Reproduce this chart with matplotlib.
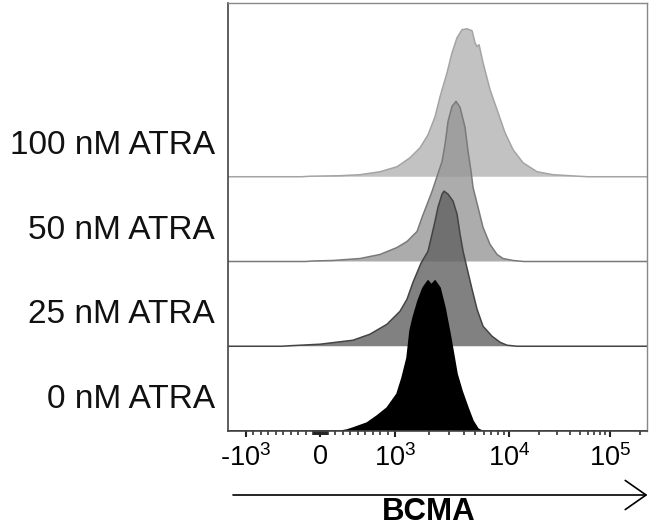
import numpy as np
import matplotlib
matplotlib.use("Agg")
import matplotlib.pyplot as plt
from matplotlib import transforms
from matplotlib.patches import FancyArrowPatch

plt.rcParams["font.family"] = ["Liberation Sans", "DejaVu Sans"]
plt.rcParams["mathtext.fontset"] = "custom"
plt.rcParams["mathtext.rm"] = "Liberation Sans"
plt.rcParams["mathtext.it"] = "Liberation Sans:italic"
plt.rcParams["mathtext.bf"] = "Liberation Sans:bold"

# ---- data: BCMA fluorescence histograms (height in % of lane, lane = 100) ----
labels = ["100 nM ATRA", "50 nM ATRA", "25 nM ATRA", "0 nM ATRA"]

bcma_100 = [-250, -141, 262, 530, 799, 1041, 1354, 1657, 1948, 2244, 2482, 2859,
            3162, 3499, 3870, 4281, 4737, 5032, 5240, 5457, 5914, 6813, 7848,
            9223, 10955, 13756, 18930, 27260, 40180, 60000]
count_100 = [0, 0.6, 1.2, 2.4, 5.9, 11.8, 22.4, 34.2, 49.6, 70.8, 94.4, 122.7,
             146.3, 164.0, 173.5, 174.6, 172.3, 158.1, 153.4, 155.8, 134.5, 102.7,
             79.1, 51.9, 31.9, 16.5, 5.9, 2.4, 1.2, 0]

bcma_50 = [-200, -101, 168, 530, 799, 1041, 1274, 1560, 1725, 1909, 2112, 2336,
           2585, 2746, 2917, 3162, 3429, 3717, 4112, 4369, 4642, 4833, 5348,
           5914, 6813, 7848, 8860, 10955, 14000]
count_50 = [0, 0.6, 1.2, 3.5, 8.3, 16.5, 23.6, 35.4, 52.0, 67.3, 82.7, 100.4,
            118.1, 138.2, 165.3, 183.0, 189.0, 181.9, 158.3, 129.9, 106.3, 87.4,
            63.8, 40.2, 20.1, 8.3, 3.5, 1.2, 0]

bcma_25 = [-520, -409, -7, 436, 664, 893, 1106, 1274, 1439, 1690, 1948, 2112,
           2244, 2384, 2585, 2691, 2917, 3228, 3499, 3717, 3950, 4240, 4737,
           5240, 5914, 7094, 8340, 9605, 12000]
count_25 = [0, 0.6, 2.4, 7.1, 14.2, 26.0, 41.3, 55.5, 75.6, 98.0, 112.2, 132.3,
            147.6, 164.2, 179.5, 183.0, 179.5, 171.2, 155.9, 132.3, 112.2, 94.5,
            67.3, 43.7, 23.6, 11.8, 4.7, 1.2, 0]

bcma_0 = [280, 356, 436, 624, 758, 893, 1041, 1152, 1274, 1354, 1439, 1591, 1761,
          1948, 2090, 2244, 2482, 2746, 3037, 3228, 3499, 3870, 4369, 4833, 5348,
          5800]
count_0 = [0, 1.2, 3.5, 9.4, 17.7, 27.2, 43.7, 62.6, 86.2, 118.1, 133.5, 153.5,
           168.9, 177.2, 172.4, 177.2, 168.9, 145.3, 114.6, 94.5, 67.3, 47.2, 27.2,
           11.8, 2.4, 0]

series_x = [bcma_100, bcma_50, bcma_25, bcma_0]
series_y = [count_100, count_50, count_25, count_0]
lane_offsets = [300, 200, 100, 0]

fill_colors = ["#c2c2c2", "#979797", "#626262", "#000000"]
fill_alphas = [1.0, 0.8, 0.8, 1.0]
edge_colors = ["#a4a4a4", "#7a7a7a", "#444444", "#000000"]

major_ticks = [-1000, 0, 1000, 10000, 100000]
major_labels = ["-$10^{3}$", "0", "$10^{3}$", "$10^{4}$", "$10^{5}$"]
XLIM = (-1770, 232000)
YLIM = (0, 505)

# ---- biexponential-style display scale (linear within +/-1000, log outside) ----
KNOT_T = np.array([-4.0, -1.0, 0.0, 1.0, 2.0, 3.0, 6.0])
KNOT_U = np.array([-298.0, -74.5, 0.0, 74.5, 188.5, 289.5, 592.5])


def _to_t(x):
    x = np.asarray(x, dtype=float)
    ax_ = np.maximum(np.abs(x), 1e-12)
    return np.where(ax_ <= 1000, x / 1000.0,
                    np.sign(x) * (1.0 + np.log10(ax_ / 1000.0)))


def forward(x):
    return np.interp(_to_t(x), KNOT_T, KNOT_U)


def inverse(u):
    t = np.interp(np.asarray(u, dtype=float), KNOT_U, KNOT_T)
    return np.where(np.abs(t) <= 1, 1000.0 * t,
                    np.sign(t) * 1000.0 * 10.0 ** (np.abs(t) - 1.0))


fig = plt.figure(figsize=(6.49, 5.28), dpi=100)
ax = fig.add_axes([227.5 / 649, 97 / 528, (647 - 227.5) / 649, (525 - 97) / 528])
ax.set_xscale("function", functions=(forward, inverse))
ax.set_xlim(*XLIM)
ax.set_ylim(*YLIM)

for xs, ys, off, fc, fa, ec in zip(series_x, series_y, lane_offsets,
                                   fill_colors, fill_alphas, edge_colors):
    xs = np.asarray(xs, dtype=float)
    ys = np.asarray(ys, dtype=float)
    ax.fill_between(xs, off, off + ys, facecolor=fc, alpha=fa, linewidth=0)
    xfull = np.concatenate([[XLIM[0]], xs, [XLIM[1]]])
    yfull = np.concatenate([[0.0], ys, [0.0]])
    ax.plot(xfull, off + yfull, color=ec, lw=1.1, solid_joinstyle="round")

# axis ticks
minor = ([s * v for v in range(10, 100, 10) for s in (-1, 1)]
         + [s * v for v in range(100, 1000, 100) for s in (-1, 1)]
         + list(range(2000, 10000, 1000)) + list(range(20000, 100000, 10000))
         + [200000])
ax.set_xticks(major_ticks)
ax.set_xticklabels(major_labels)
ax.set_xticks(minor, minor=True)
ax.tick_params(axis="x", which="major", direction="out", length=4.5, width=1.5,
               color="#222222", labelsize=19.5, pad=5)
ax.tick_params(axis="x", which="minor", direction="out", length=3.2, width=1.1,
               color="#222222")
ax.set_yticks([])

for side in ("left", "bottom"):
    ax.spines[side].set_color("#444444")
    ax.spines[side].set_linewidth(1.2)
for side in ("top", "right"):
    ax.spines[side].set_color("#888888")
    ax.spines[side].set_linewidth(1.0)

# lane labels
lbl_tr = transforms.blended_transform_factory(ax.transAxes, ax.transData)
for name, off in zip(labels, lane_offsets):
    ax.text(-0.03, off + 37, name, transform=lbl_tr, ha="right", va="center",
            fontsize=24, color="#111111")

# axis arrow and title
arrow = FancyArrowPatch((233 / 649, 33 / 528), (647.5 / 649, 33 / 528),
                        transform=fig.transFigure,
                        arrowstyle="->,head_length=1.5,head_width=1.05",
                        mutation_scale=10, lw=1.2, color="black",
                        shrinkA=0, shrinkB=0)
fig.add_artist(arrow)
fig.text(429 / 649, 8 / 528, "BCMA", ha="center", va="baseline",
         fontsize=22.5, fontweight="bold", color="black")

fig.savefig("out.png", dpi=100)
